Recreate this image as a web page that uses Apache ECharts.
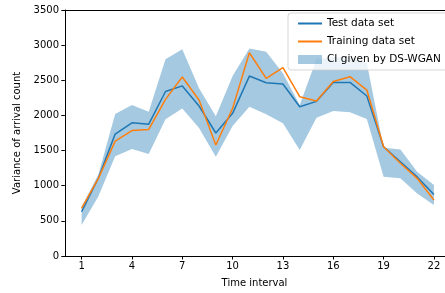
<!DOCTYPE html>
<html>
<head>
<meta charset="utf-8">
<script src="https://cdn.jsdelivr.net/npm/echarts@6.0.0/dist/echarts.min.js"></script>
<style>
    html, body { margin: 0; padding: 0; background: #fff; }
    #chart { width: 445px; height: 293px; }
</style>
</head>
<body>
<div id="chart"></div>
<script>
    // 时间区间
    const timeSteps = [1, 2, 3, 4, 5, 6, 7, 8, 9, 10, 11, 12, 13, 14, 15, 16, 17, 18, 19, 20, 21, 22];
    const xTicks = [1, 4, 7, 10, 13, 16, 19, 22];

    const testData = [630, 1110, 1735, 1895, 1875, 2340, 2420, 2134, 1750, 2030, 2560, 2465,
        2447, 2124, 2200, 2468, 2470, 2276, 1555, 1340, 1125, 875];
    const trainData = [678, 1105, 1635, 1785, 1800, 2229, 2546, 2219, 1579, 2100, 2892, 2527,
        2679, 2266, 2205, 2484, 2551, 2361, 1555, 1320, 1105, 797];
    // DS-WGAN 置信区间
    const ciUpper = [700, 1160, 2020, 2148, 2053, 2798, 2940, 2385, 1990, 2560, 2953, 2906,
        2600, 2150, 2800, 2830, 2830, 2745, 1541, 1517, 1200, 1010];
    const ciLower = [441, 850, 1420, 1522, 1451, 1944, 2100, 1820, 1412, 1850, 2124, 2015,
        1887, 1508, 1968, 2063, 2044, 1949, 1128, 1105, 891, 725];

    const font = 'DejaVu Sans';
    const chart = echarts.init(document.getElementById('chart'));

    const bandRows = timeSteps.map((t, i) => [t, ciLower[i], ciUpper[i]]);
    // 图例里只要线，不要圆点
    const noDot = { opacity: 0 };

    chart.setOption({
        animation: false,
        grid: { left: 64, right: 0, top: 10, bottom: 37 },
        legend: {
            orient: 'vertical',
            left: 288,
            top: 13,
            itemWidth: 24,
            itemHeight: 9,
            itemGap: 7,
            padding: [5, 8, 5, 9],
            backgroundColor: 'rgba(255,255,255,0.8)',
            borderColor: 'rgba(204,204,204,0.8)',
            borderWidth: 1,
            borderRadius: 3,
            textStyle: { fontFamily: font, fontSize: 10.5, color: '#000' },
            data: [
                { name: 'Test data set', itemStyle: noDot },
                { name: 'Training data set', itemStyle: noDot },
                { name: 'CI given by DS-WGAN', icon: 'rect' }
            ]
        },
        xAxis: [{
            type: 'value',
            min: -0.05,
            max: 22.66,
            name: 'Time interval',
            nameLocation: 'middle',
            nameGap: 22,
            nameTextStyle: { fontFamily: font, fontSize: 10, color: '#000' },
            splitLine: { show: false },
            axisLine: { lineStyle: { color: '#000', width: 1 } },
            axisTick: { inside: false, length: 3.5, lineStyle: { color: '#000' }, customValues: xTicks },
            axisLabel: { fontFamily: font, fontSize: 10, color: '#000', margin: 5, customValues: xTicks }
        }, {
            type: 'value',
            position: 'top',
            min: -0.05,
            max: 22.66,
            axisLine: { show: true, lineStyle: { color: '#000', width: 1 } },
            axisTick: { show: false },
            axisLabel: { show: false },
            splitLine: { show: false }
        }],
        yAxis: {
            type: 'value',
            min: 0,
            max: 3500,
            interval: 500,
            name: 'Variance of arrival count',
            nameLocation: 'middle',
            nameGap: 36,
            nameTextStyle: { fontFamily: font, fontSize: 10, color: '#000' },
            splitLine: { show: false },
            axisLine: { show: true, lineStyle: { color: '#000', width: 1 } },
            axisTick: { show: true, inside: false, length: 3.5, lineStyle: { color: '#000' } },
            axisLabel: {
                fontFamily: font, fontSize: 10, color: '#000', margin: 5,
                formatter: v => String(v)
            }
        },
        series: [
            {
                name: 'CI given by DS-WGAN',
                type: 'custom',
                itemStyle: { color: 'rgba(31,119,180,0.4)' },
                data: bandRows,
                renderItem: function (params, api) {
                    if (params.dataIndex !== 0) return null;
                    const pts = [];
                    bandRows.forEach(r => pts.push(api.coord([r[0], r[2]])));
                    bandRows.slice().reverse().forEach(r => pts.push(api.coord([r[0], r[1]])));
                    return {
                        type: 'polygon',
                        shape: { points: pts },
                        style: { fill: 'rgba(31,119,180,0.4)' }
                    };
                },
                z: 1
            },
            {
                name: 'Test data set',
                type: 'line',
                data: timeSteps.map((t, i) => [t, testData[i]]),
                symbol: 'none',
                color: '#1f77b4',
                lineStyle: { width: 1.5, color: '#1f77b4' },
                z: 2
            },
            {
                name: 'Training data set',
                type: 'line',
                data: timeSteps.map((t, i) => [t, trainData[i]]),
                symbol: 'none',
                color: '#ff7f0e',
                lineStyle: { width: 1.5, color: '#ff7f0e' },
                z: 3
            }
        ]
    });
</script>
</body>
</html>
